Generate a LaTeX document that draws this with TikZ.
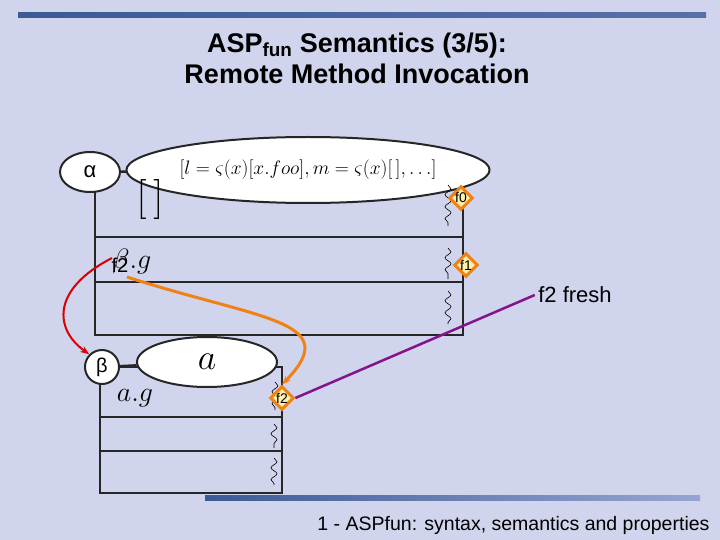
\documentclass[tikz,border=0pt]{standalone}
\usepackage{fix-cm}
\usepackage{fontspec}
\setmainfont{Liberation Sans}
\usetikzlibrary{shapes.geometric,decorations.pathmorphing,arrows.meta}
\definecolor{bg}{RGB}{208,212,236}
\definecolor{barA}{RGB}{60,90,150}
\definecolor{barB}{RGB}{150,165,210}
\definecolor{orng}{RGB}{240,130,20}
\definecolor{purp}{RGB}{130,20,140}
\definecolor{dfill}{RGB}{255,240,170}
\tikzset{
 box/.style={draw=black!85,line width=2.5pt},
 ell/.style={ellipse,draw=black!85,line width=2pt,fill=white,inner sep=0pt},
 wav/.style={decorate,decoration={snake,amplitude=3pt,segment length=12pt},line width=0.6pt},
 dia/.style={diamond,draw=orng,line width=3pt,fill=dfill,inner sep=0.5pt,font=\fontsize{14}{14}\selectfont},
}
\begin{document}
\begin{tikzpicture}[x=1pt,y=-1pt]
\fill[bg] (0,0) rectangle (720,540);
\useasboundingbox (0,0) rectangle (720,540);
\shade[left color=barA,right color=barA!70!barB] (18,12.5) rectangle (706,17.5);
\shade[left color=barA,right color=barB] (205,495.5) rectangle (700,500.5);
\node[font=\bfseries\fontsize{27}{31}\selectfont,align=center] (title) at (357,58) {ASP\textsubscript{fun} Semantics (3/5):\\Remote Method Invocation};
\node[anchor=east,font=\fontsize{19.5}{20}\selectfont] (foot) at (713,525) {1 - ASPfun: syntax, semantics and properties};
% alpha box
\draw[box] (95,172) rectangle (463,335);
\draw[box] (95,237) -- (463,237);
\draw[box] (95,282) -- (463,282);
\node[ell,minimum width=60,minimum height=40] (alpha) at (90,172) {\fontsize{22}{22}\selectfont α};
\node[ell,minimum width=286,minimum height=66] (obj) at (308,170) {\fontsize{19.5}{20}\selectfont$[l=\varsigma(x)[x.foo],m=\varsigma(x)[\,],\ldots]$};
\draw[box] (alpha) -- (obj);
\node (br) at (150,200) {\fontsize{40}{40}\selectfont$[\,]$};
\coordinate (w0a) at (448,185); \coordinate (w0b) at (448,226);
\coordinate (w1a) at (448,248); \coordinate (w1b) at (448,279);
\coordinate (w2a) at (448,291); \coordinate (w2b) at (448,324);
\draw[wav] (w0a) -- (w0b); \draw[wav] (w1a) -- (w1b); \draw[wav] (w2a) -- (w2b);
\node[dia] (f0) at (461,198) {f0};
\node[dia] (f1) at (466,265) {f1};
\node (bg1) at (132,261) {\fontsize{28}{28}\selectfont$\beta.g$};
\node (f2t) at (120,265) {\fontsize{20}{20}\selectfont f2};
% beta box
\draw[box] (100,367) rectangle (282,493);
\draw[box] (100,417) -- (282,417);
\draw[box] (100,451) -- (282,451);
\node[circle,draw=black!85,line width=2pt,fill=white,minimum size=34,inner sep=0pt] (beta) at (102,367) {\fontsize{20}{20}\selectfont β};
\node[ell,minimum width=140,minimum height=50] (a) at (207,362) {\fontsize{36}{36}\selectfont$a$};
\draw[box] (beta) -- (a);
\node (ag) at (135,398) {\fontsize{28}{28}\selectfont$a.g$};
\coordinate (w3a) at (275,382); \coordinate (w3b) at (275,410);
\coordinate (w4a) at (274,424); \coordinate (w4b) at (274,448);
\coordinate (w5a) at (274,458); \coordinate (w5b) at (274,485);
\draw[wav] (w3a) -- (w3b); \draw[wav] (w4a) -- (w4b); \draw[wav] (w5a) -- (w5b);
\node[dia] (f2) at (282,398) {f2};
% connectors
\coordinate (rs) at (112,258);
\draw[red!85!black,line width=2pt,-{Stealth[length=9pt]}] (rs) .. controls (50,290) and (55,330) .. (beta.north west);
\coordinate (os) at (127,277);
\draw[orng,line width=3pt,-{Stealth[length=9pt]}] (os) .. controls (260,320) and (345,320) .. (f2.north);
\node[font=\fontsize{22}{22}\selectfont] (fresh) at (575,295) {f2 fresh};
\draw[purp,line width=2.5pt] (f2.east) -- (fresh.west);
\end{tikzpicture}
\end{document}
